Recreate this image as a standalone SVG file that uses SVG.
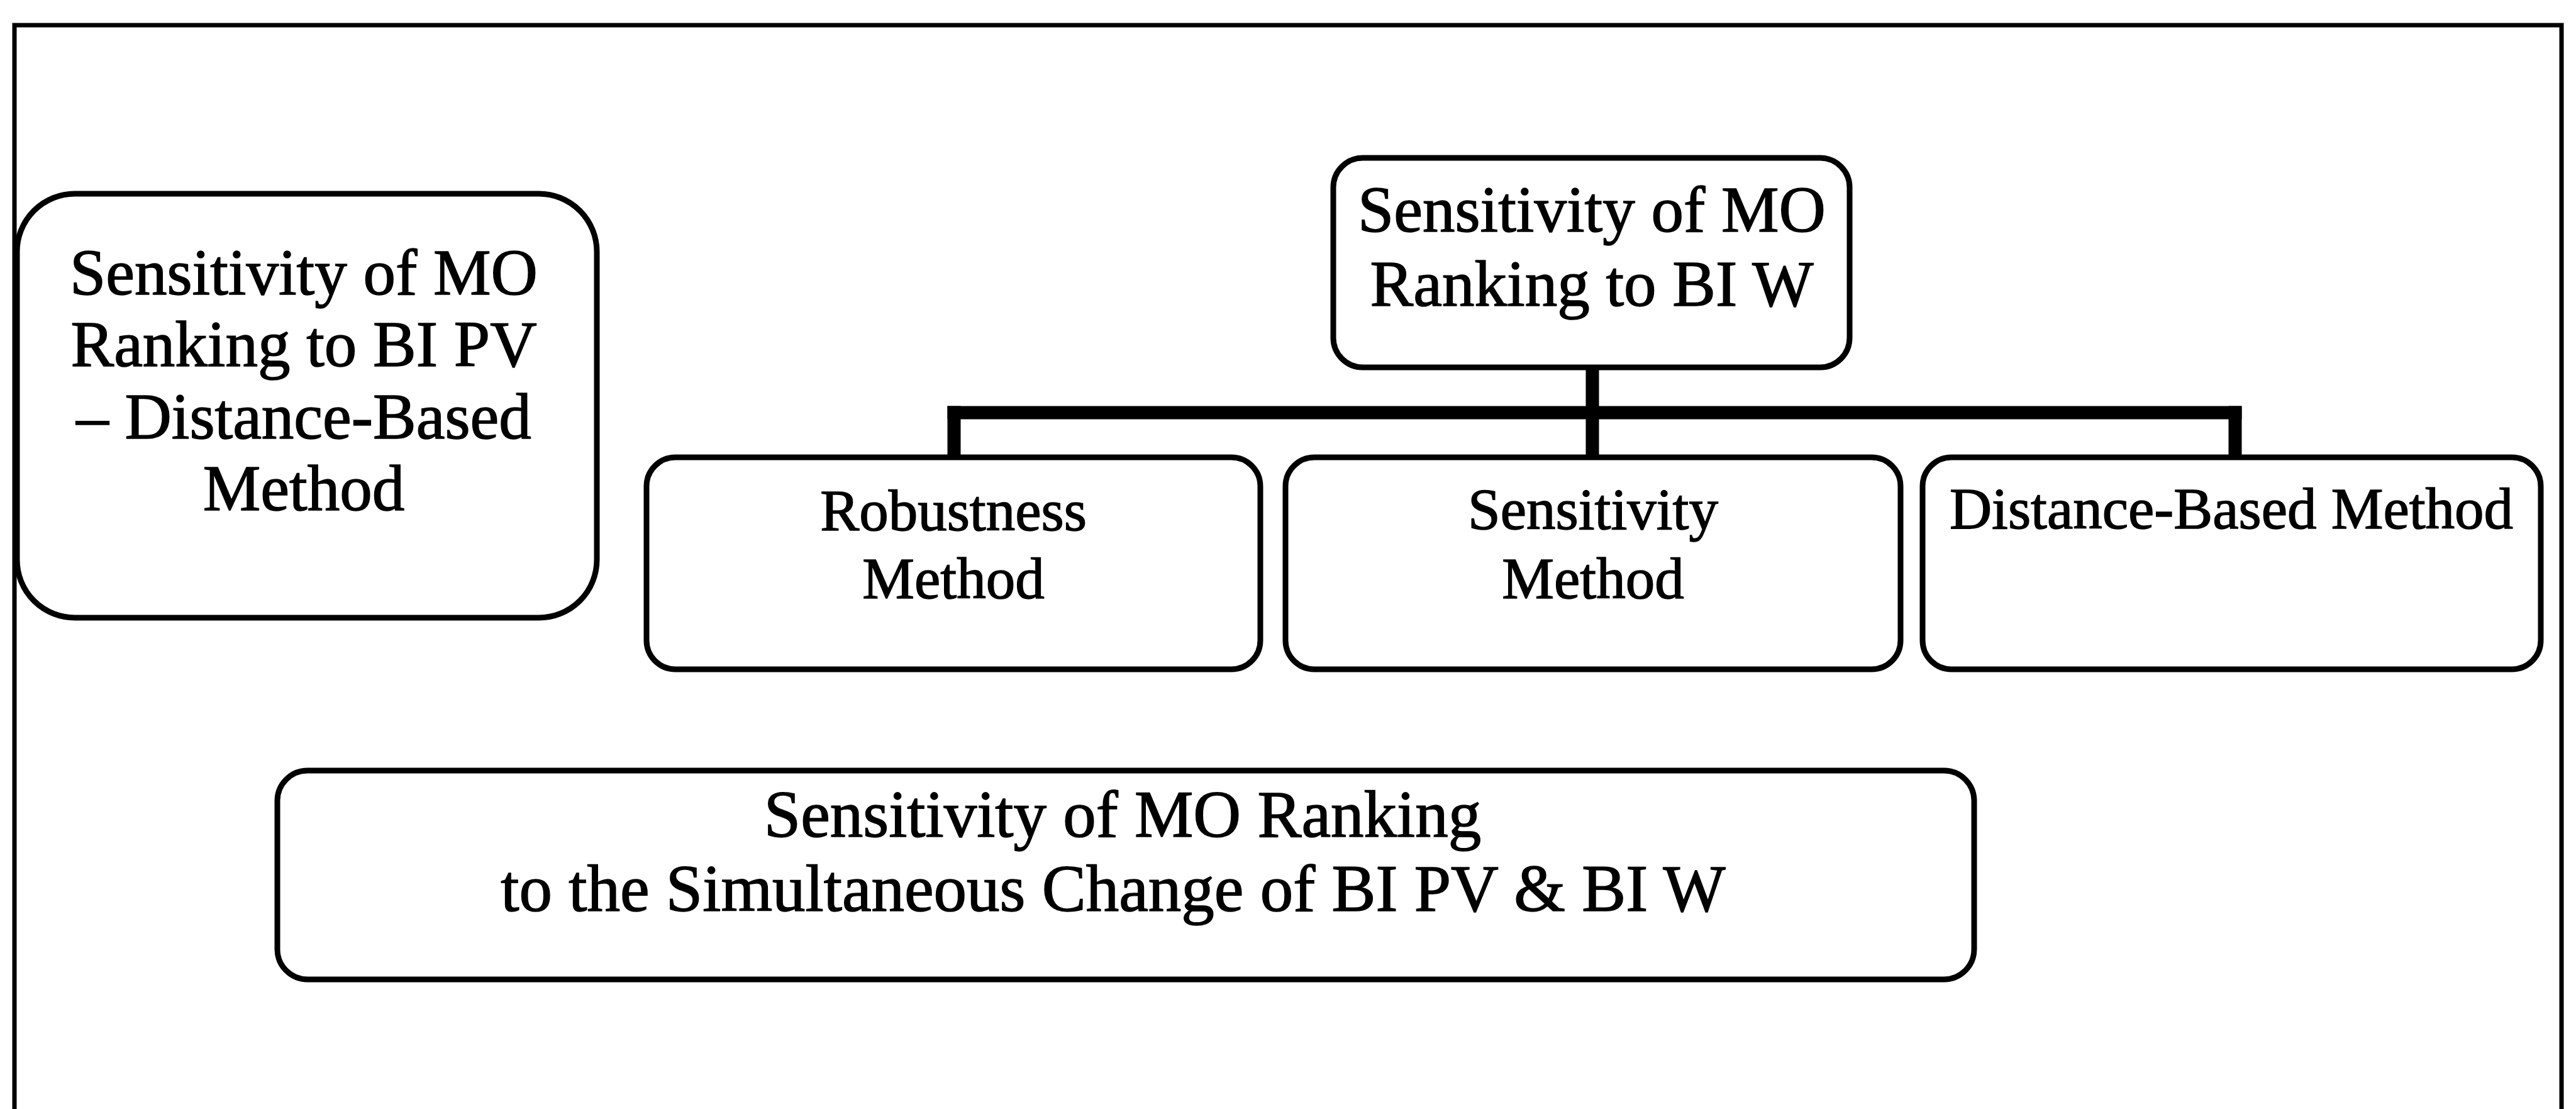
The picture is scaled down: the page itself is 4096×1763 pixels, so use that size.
<svg xmlns="http://www.w3.org/2000/svg" width="4096" height="1763" viewBox="0 0 4096 1763">
  <style>
    .box { fill: #ffffff; stroke: #000000; stroke-width: 9; }
    .frame { fill: none; stroke: #000000; stroke-width: 7; }
    .conn { fill: none; stroke: #000000; stroke-width: 21; stroke-linecap: square; }
    .t { font-family: "Liberation Serif", "Times New Roman", serif; fill: #000000; stroke: #000000; stroke-width: 1.5; text-anchor: middle; }
    .big { font-size: 103px; }
    .mid { font-size: 93px; }
    .wide { font-size: 105px; }
  </style>
  <rect width="4096" height="1763" fill="#ffffff"/>
  <path id="frame" class="frame" d="M23,1763 V40 H4073 V1763"/>

  <g id="connectors">
    <path class="conn" d="M2532,590 V726"/>
    <path class="conn" d="M1517,656 H3554"/>
    <path class="conn" d="M1517,656 V726"/>
    <path class="conn" d="M3554,656 V726"/>
  </g>

  <g id="node-pv">
    <rect class="box" x="27" y="308" width="922" height="674" rx="92" ry="92"/>
    <text class="t big" x="483" y="468">Sensitivity of MO</text>
    <text class="t big" x="483" y="582">Ranking to BI PV</text>
    <text class="t big" x="483" y="697">– Distance-Based</text>
    <text class="t big" x="483" y="811">Method</text>
  </g>

  <g id="node-w">
    <rect class="box" x="2120" y="251" width="821" height="333" rx="47" ry="47"/>
    <text class="t big" x="2531" y="368">Sensitivity of MO</text>
    <text class="t big" x="2531" y="486">Ranking to BI W</text>
  </g>

  <g id="node-robustness">
    <rect class="box" x="1028" y="727" width="976" height="337" rx="46" ry="46"/>
    <text class="t mid" x="1516" y="843">Robustness</text>
    <text class="t mid" x="1516" y="951">Method</text>
  </g>

  <g id="node-sensitivity">
    <rect class="box" x="2044" y="727" width="978" height="337" rx="46" ry="46"/>
    <text class="t mid" x="2533" y="841">Sensitivity</text>
    <text class="t mid" x="2533" y="951">Method</text>
  </g>

  <g id="node-distance">
    <rect class="box" x="3057" y="727" width="983" height="337" rx="46" ry="46"/>
    <text class="t mid" x="3548" y="840">Distance-Based Method</text>
  </g>

  <g id="node-simultaneous">
    <rect class="box" x="441" y="1225" width="2698" height="332" rx="48" ry="48"/>
    <text class="t wide" x="1785" y="1330">Sensitivity of MO Ranking</text>
    <text class="t wide" x="1770" y="1448">to the Simultaneous Change of BI PV &amp; BI W</text>
  </g>
</svg>
